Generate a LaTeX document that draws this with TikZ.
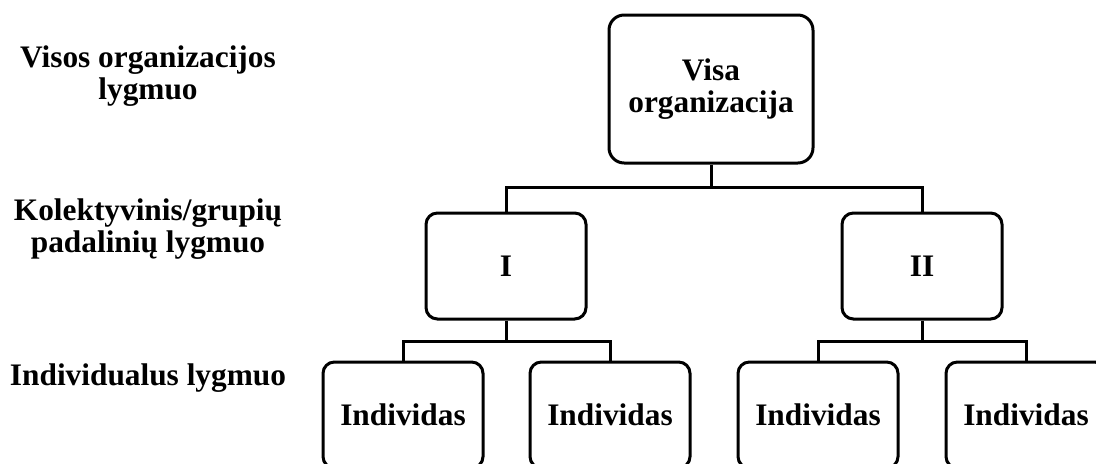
\documentclass[tikz,border=0pt]{standalone}
\usepackage{fontspec}
\setmainfont{Liberation Serif}
\usetikzlibrary{positioning}
\tikzstyle{orgChart} = [x = 0.75pt, y = -0.75pt, every node/.style={font=\fontsize{23.5}{24.5}\selectfont\bfseries}]
\tikzstyle{unitBox} = [draw, line width=2.25pt, rounded corners=.3cm, align=center, minimum width=120pt, minimum height=79.5pt, inner sep=0pt]
\tikzstyle{topBox} = [unitBox, minimum width=153pt, minimum height=111pt, rounded corners=.4cm]
\tikzstyle{levelText} = [align=center, inner sep=0pt]
\tikzstyle{branchLine} = [line width=2.25pt]
\newcommand{\levelLabel}[3]{\node [levelText] (#1) at (148,#2) {#3};}
\newcommand{\individualBox}[2]{\node [unitBox] (#1) at (#2,415) {Individas};}
\newcommand{\forkLines}[3]{\draw [branchLine] (#1) -| (#2); \draw [branchLine] (#1) -| (#3);}

\begin{document}
\begin{tikzpicture}[orgChart]
        \clip (0,0) rectangle (1096,464);
        \useasboundingbox (0,0) rectangle (1096,464);

        \levelLabel{levelTop}{76}{Visos organizacijos\\lygmuo}
        \levelLabel{levelGroup}{229}{Kolektyvinis/grupių\\padalinių lygmuo}
        \levelLabel{levelIndividual}{378}{Individualus lygmuo}

        \node [topBox] (whole) at (711,89) {Visa\\organizacija};
        \node [unitBox] (unitI) at (506,266) {I};
        \node [unitBox] (unitII) at (922,266) {II};
        \individualBox{indA}{403}
        \individualBox{indB}{610}
        \individualBox{indC}{818}
        \individualBox{indD}{1026}

        \coordinate (forkTop) at (711,187);
        \coordinate (forkI) at (506,341);
        \coordinate (forkII) at (922,341);

        \draw [branchLine] (whole) -- (forkTop);
        \forkLines{forkTop}{unitI}{unitII}
        \draw [branchLine] (unitI) -- (forkI);
        \forkLines{forkI}{indA}{indB}
        \draw [branchLine] (unitII) -- (forkII);
        \forkLines{forkII}{indC}{indD}
      \end{tikzpicture}
\end{document}
